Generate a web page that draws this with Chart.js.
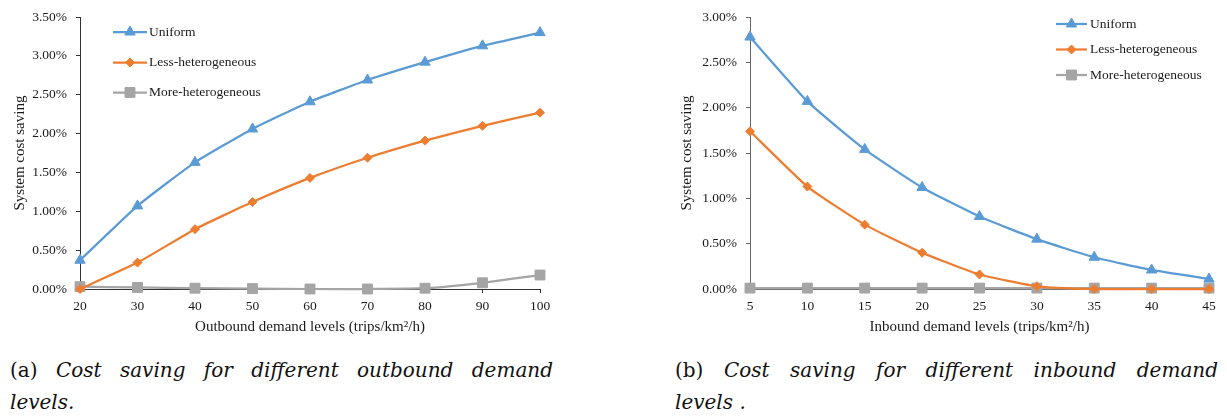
<!DOCTYPE html>
<html>
<head>
<meta charset="utf-8">
<script src="https://cdn.jsdelivr.net/npm/chart.js@4.4.1/dist/chart.umd.min.js"></script>
<style>
    body { margin: 0; background: #fff; width: 1227px; height: 416px; overflow: hidden; position: relative; font-family: "Liberation Serif", serif; }
    .box { position: absolute; top: 0; height: 340px; }
    #boxA { left: 0; width: 560px; }
    #boxB { left: 640px; width: 587px; }
    .cap { position: absolute; font-family: "DejaVu Serif", serif; font-size: 20px; line-height: 26px; color: #111; white-space: nowrap; }
    .cap i { font-weight: 300; }
    .just { width: 543px; text-align: justify; text-align-last: justify; white-space: normal; }
</style>
</head>
<body>
<div class="box" id="boxA"><canvas id="outboundChart"></canvas></div>
<div class="box" id="boxB"><canvas id="inboundChart"></canvas></div>

<div class="cap just" style="left:10px; top:357px;">(a) <i>Cost saving for different outbound demand</i></div>
<div class="cap" style="left:10px; top:389px;"><i>levels.</i></div>
<div class="cap just" style="left:675px; top:357px;">(b) <i>Cost saving for different inbound demand</i></div>
<div class="cap" style="left:675px; top:389px;"><i>levels .</i></div>

<script>
// values in percent
const seriesNames = ['Uniform', 'Less-heterogeneous', 'More-heterogeneous'];

const outboundLevels = ['20', '30', '40', '50', '60', '70', '80', '90', '100'];
const outUniform = [0.37, 1.07, 1.63, 2.06, 2.41, 2.69, 2.92, 3.13, 3.30];
const outLess = [0.00, 0.34, 0.77, 1.12, 1.43, 1.69, 1.91, 2.10, 2.27];
const outMore = [0.03, 0.02, 0.01, 0.005, 0.00, 0.00, 0.01, 0.08, 0.18];

const inboundLevels = ['5', '10', '15', '20', '25', '30', '35', '40', '45'];
const inUniform = [2.78, 2.07, 1.54, 1.12, 0.80, 0.55, 0.35, 0.21, 0.11];
const inLess = [1.74, 1.13, 0.71, 0.40, 0.16, 0.03, 0.00, 0.00, 0.00];
const inMore = [0.01, 0.01, 0.01, 0.01, 0.01, 0.01, 0.01, 0.01, 0.01];

const colors = ['#5B9BD5', '#ED7D31', '#A5A5A5'];
const markers = ['triangle', 'rectRot', 'rect'];
const markerSizes = [6, 4.5, 7];

// legend drawn inside the plot area
const insideLegend = {
    id: 'insideLegend',
    afterDatasetsDraw(chart, args, opts) {
        const ctx = chart.ctx;
        ctx.save();
        chart.data.datasets.forEach((ds, i) => {
            const y = opts.rows[i];
            ctx.strokeStyle = ds.borderColor;
            ctx.lineWidth = ds.borderWidth;
            ctx.beginPath();
            ctx.moveTo(opts.x0, y);
            ctx.lineTo(opts.x1, y);
            ctx.stroke();
            ctx.fillStyle = ds.pointBackgroundColor;
            ctx.strokeStyle = ds.pointBorderColor;
            ctx.lineWidth = 1;
            Chart.helpers.drawPoint(ctx, { pointStyle: ds.pointStyle, radius: ds.pointRadius, rotation: 0, borderWidth: 1 }, (opts.x0 + opts.x1) / 2, y);
            ctx.fillStyle = '#1a1a1a';
            ctx.font = '13.5px "Liberation Serif"';
            ctx.textBaseline = 'middle';
            ctx.textAlign = 'left';
            ctx.fillText(ds.label, opts.textX, y);
        });
        ctx.restore();
    }
};

function buildDatasets(values) {
    return values.map((v, i) => ({
        label: seriesNames[i],
        data: v,
        borderColor: colors[i],
        backgroundColor: colors[i],
        pointBackgroundColor: colors[i],
        pointBorderColor: colors[i],
        pointBorderWidth: 1,
        pointStyle: markers[i],
        pointRadius: markerSizes[i],
        borderWidth: 2.25,
        tension: 0.15,
        clip: false
    }));
}

function createChart(id, labels, values, yMax, xTitle, axisColor, lay, legendOpts) {
    const ctx = document.getElementById(id).getContext('2d');
    return new Chart(ctx, {
        type: 'line',
        data: { labels: labels, datasets: buildDatasets(values) },
        options: {
            responsive: true,
            maintainAspectRatio: false,
            animation: false,
            layout: { padding: lay.padding },
            scales: {
                x: {
                    offset: false,
                    border: { display: true, color: axisColor, width: 1 },
                    grid: { display: true, drawOnChartArea: false, drawTicks: true, tickLength: 4, color: axisColor },
                    ticks: { color: '#1a1a1a', padding: 5, maxRotation: 0, font: { family: 'Liberation Serif', size: 13.5 } },
                    title: {
                        display: true,
                        text: xTitle,
                        color: '#1a1a1a',
                        padding: 0,
                        font: { family: 'Liberation Serif', size: 15 }
                    },
                    afterFit(scale) { scale.height = lay.xHeight; }
                },
                y: {
                    min: 0,
                    max: yMax,
                    border: { display: true, color: axisColor, width: 1 },
                    grid: { display: true, drawOnChartArea: false, drawTicks: true, tickLength: 4, color: axisColor },
                    ticks: {
                        stepSize: 0.5,
                        color: '#1a1a1a',
                        padding: 9,
                        font: { family: 'Liberation Serif', size: 13.5 },
                        callback: v => v.toFixed(2) + '%'
                    },
                    title: {
                        display: true,
                        text: 'System cost saving',
                        color: '#1a1a1a',
                        padding: 0,
                        font: { family: 'Liberation Serif', size: 15 }
                    },
                    afterFit(scale) { scale.width = lay.yWidth; }
                }
            },
            plugins: {
                legend: { display: false },
                tooltip: { enabled: false },
                insideLegend: legendOpts
            }
        },
        plugins: [insideLegend]
    });
}

createChart('outboundChart', outboundLevels, [outUniform, outLess, outMore], 3.5,
    'Outbound demand levels (trips/km\u00B2/h)', '#333333',
    { padding: { left: 11, right: 20, top: 16, bottom: 4 }, yWidth: 69, xHeight: 47 },
    { x0: 113, x1: 147, textX: 149, rows: [32, 62.5, 92.5] });

createChart('inboundChart', inboundLevels, [inUniform, inLess, inMore], 3.0,
    'Inbound demand levels (trips/km\u00B2/h)', '#666666',
    { padding: { left: 38, right: 18, top: 14, bottom: 4 }, yWidth: 72, xHeight: 47 },
    { x0: 416, x1: 447, textX: 450, rows: [24, 49.5, 75] });
</script>
</body>
</html>
